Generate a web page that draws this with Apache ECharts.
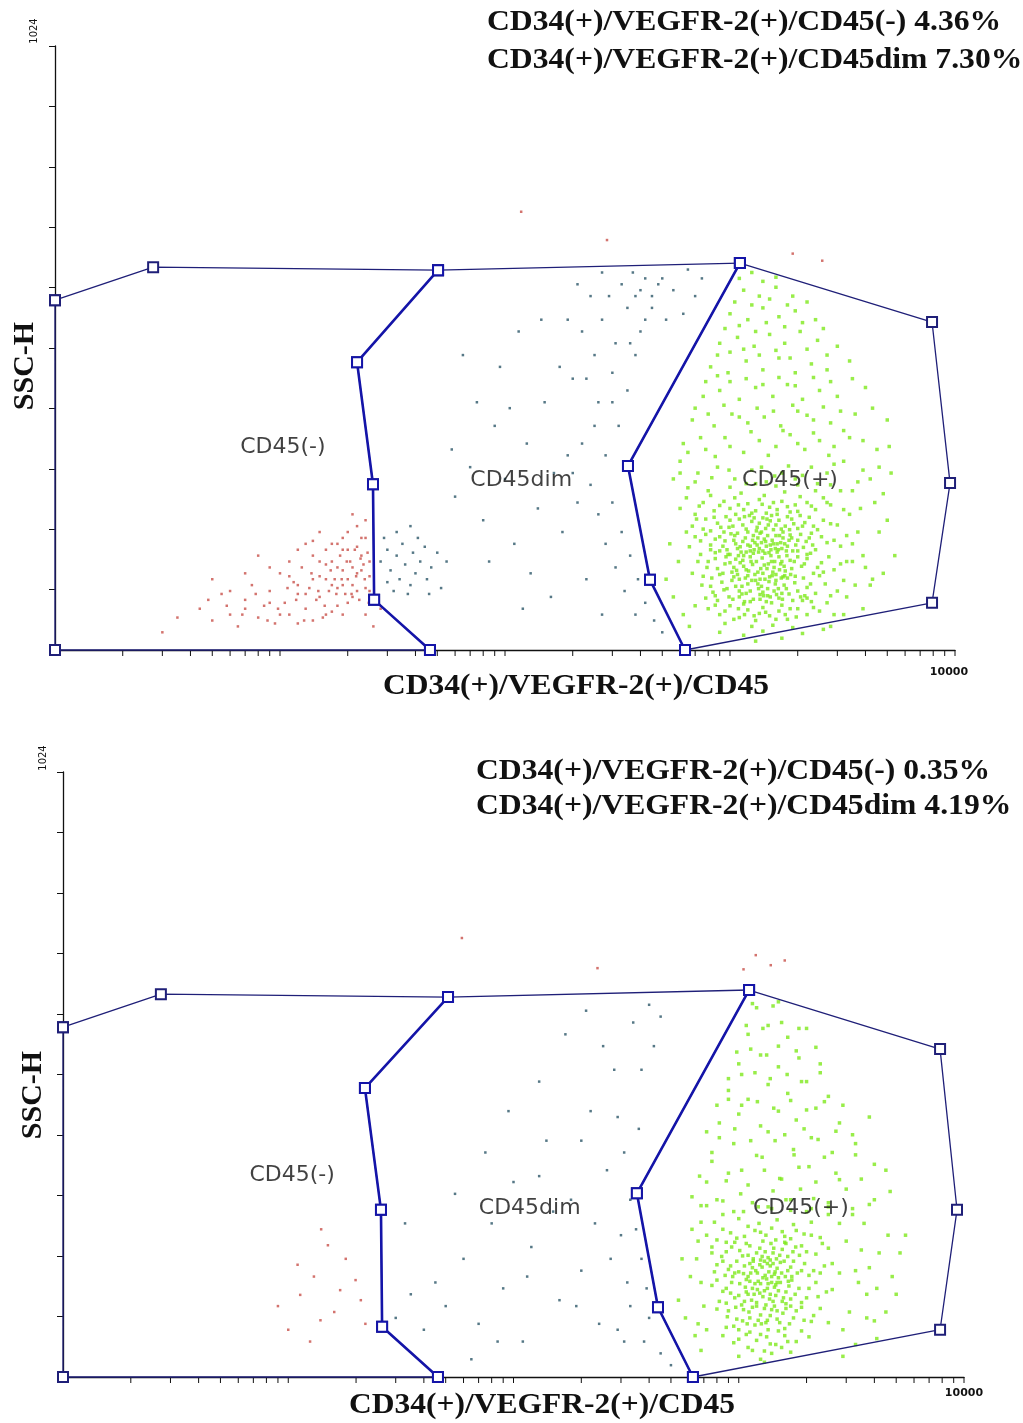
<!DOCTYPE html>
<html><head><meta charset="utf-8">
<script src="https://cdn.jsdelivr.net/npm/echarts@6.0.0/dist/echarts.min.js"></script>
<style>html,body{margin:0;padding:0;background:#fff}#c{width:1023px;height:1423px}</style>
</head><body><div id="c"></div><script>
// ---------- axis ticks / labels ----------
const xTicks = [1,2,3,4,5,6,7,8,9,10,20,30,40,50,60,70,80,90,100,200,300,400,500,600,700,800,900,1000,2000,3000,4000,5000,6000,7000,8000,9000,10000];
const yTickLabel = '1024';
const xTickLabel = '10000';
const xTitle = 'CD34(+)/VEGFR-2(+)/CD45';
const yTitle = 'SSC-H';
const headersTop = ['CD34(+)/VEGFR-2(+)/CD45(-) 4.36%', 'CD34(+)/VEGFR-2(+)/CD45dim 7.30%'];
const headersBottom = ['CD34(+)/VEGFR-2(+)/CD45(-) 0.35%', 'CD34(+)/VEGFR-2(+)/CD45dim 4.19%'];
const gateNames = ['CD45(-)', 'CD45dim', 'CD45(+)'];
const gateLabelPosTop = [[10.3,344],[118,287],[1848,287]];
const gateLabelPosBottom = [[10.4,342],[118,286],[1888,286]];

// ---------- gates (top panel) ----------
const gateNegTop = [[1,593],[2.73,649],[50.4,644],[22,488],[25.9,281],[26.2,85],[46.4,0],[1,0],[1,593]];
const gatePosTop = [[1107,656],[7906,556],[9506,283],[7906,80],[631,0],[441,119],[352,312],[1107,656]];
const gateDimLeftTop = [[50.4,644],[22,488],[25.9,281],[26.2,85],[46.4,0]];
const gateDimRightTop = [[1107,656],[352,312],[441,119],[631,0]];
const gateDimEdgesTop = [[50.4,644],[1107,656]];
// ---------- gates (bottom panel) ----------
const gateNegBottom = [[1,592],[2.72,648],[51.2,643],[21.9,489],[25.8,283],[26.1,85],[46.2,0],[1,0],[1,592]];
const gatePosBottom = [[1111,655],[7830,555],[9310,283],[7830,80],[626,0],[438,118],[353,311],[1111,655]];
const gateDimLeftBottom = [[51.2,643],[21.9,489],[25.8,283],[26.1,85],[46.2,0]];
const gateDimRightBottom = [[1111,655],[353,311],[438,118],[626,0]];
const gateDimEdgesBottom = [[51.2,643],[1111,655]];

// ---------- events, top panel ----------
const negTop = [[4.4,70],[5,50],[5.5,95],[6,60],[6.5,40],[7,85],[7.5,110],[8,55],[8.5,75],[9,100],[9.5,45],[10,130],[10.5,80],[11,60],[11.5,115],[12,95],[12.5,140],[13,70],[13.5,105],[14,160],[14.5,85],[15,125],[15.5,55],[16,145],[16.5,100],[17,180],[17.5,120],[18,75],[18.5,160],[19,135],[19.5,95],[20,200],[20.5,150],[21,110],[21.5,170],[22,130],[22.5,85],[23,190],[23.5,145],[24,105],[24.5,165],[25,125],[10,60],[11,150],[12,110],[13,180],[14,50],[15,90],[16,120],[17,65],[18,105],[19,190],[20,80],[21,140],[22,210],[23,160],[24,60],[25,100],[9,140],[7,130],[6,100],[8,160],[14,120],[16,170],[18,140],[20,120],[22,100],[12,170],[15,200],[19,60],[24,220],[21,230],[3.5,55],[3,30],[5,120],[26,40],[28,70],
[4.8,85],[5.8,75],[6.8,60],[7.8,95],[8.8,50],[9.8,70],[10.8,105],[11.8,85],[12.8,50],[13.8,130],[14.8,100],[15.8,75],[16.8,135],[17.8,95],[18.8,120],[19.8,150],[20.8,95],[21.8,125],[22.8,155],[23.8,120],[24.8,80],[13,95],[15,150],[17,110],[19,170],[21,90],[23,135],[25,150],[18,180],[20,170],[16,60],[14,185],[22,175],[24,190],[11,125],[9,80],[7,70],[12,45],[17,150],[19,110],
[118,743],[284,695],[2570,660],[1900,672]];
const dimTop = [[28,150],[30,170],[31,135],[33,160],[34,120],[35,180],[36,145],[38,110],[39,165],[40,130],[42,150],[44,175],[30,115],[32,100],[37,95],[41,190],[45,120],[29,190],[47,140],[50,165],[52,105],[55,150],[33,200],[38,210],[46,95],[60,260],[70,310],[80,220],[90,380],[100,290],[110,180],[125,350],[140,240],[150,420],[165,300],[180,200],[200,460],[75,420],[85,150],[95,480],[115,540],[130,130],[145,560],[160,90],[190,330],[210,250],[230,120],[250,380],[270,60],[65,500],[105,410],[58,340],[120,70],[175,480],[220,540],[240,600],[200,300],[220,350],[240,280],[260,420],[280,330],[300,470],[320,380],[250,500],[270,560],[290,600],[310,520],[330,620],[350,580],[370,640],[400,610],[420,630],[300,250],[330,200],[360,160],[390,120],[420,80],[460,50],[500,30],[280,180],[310,140],[340,100],[380,60],[260,230],[350,440],[380,500],[420,560],[300,420],[230,460],[210,620],[190,560],[270,640],[400,540],[450,600],[480,620],[360,520],[500,630],[650,645],[560,610],[750,630],[450,580],[620,570],[380,600],[520,560],[700,600]];
const posTop = [[760,250],[900,245],[1050,258],[1200,248],[1350,255],[1500,242],[1700,252],[1950,246],[2200,250],[850,236],[1000,240],[1150,238],[1300,236],[1450,232],[1620,238],[1850,234],[2400,238],[700,230],
[780,222],[880,215],[960,226],[1030,210],[1100,222],[1180,205],[1250,218],[1320,208],[1400,224],[1480,212],[1560,204],[1650,220],[1760,210],[1880,222],[2000,206],[2150,216],[2350,210],[2600,220],[3000,212],[680,210],[820,202],[1080,198],[1220,228],[1380,200],[1530,228],[1720,200],[2050,228],[940,200],
[740,185],[820,178],[900,192],[970,170],[1040,186],[1110,175],[1170,190],[1230,168],[1290,182],[1350,172],[1420,188],[1490,165],[1560,180],[1640,170],[1720,190],[1800,176],[1900,168],[2000,186],[2120,174],[2250,190],[2400,170],[2700,182],[3100,176],[860,165],[1000,162],[1150,160],[1270,194],[1450,176],[1600,194],[1850,195],[2200,162],[660,175],[1060,180],[1330,190],[1520,170],[1680,182],
[720,150],[790,140],[860,155],[930,130],[1000,148],[1070,135],[1140,152],[1200,126],[1260,145],[1330,132],[1390,156],[1460,138],[1530,150],[1600,128],[1680,146],[1760,134],[1850,152],[1950,125],[2080,142],[2200,155],[2350,130],[2550,148],[2900,136],[3300,150],[830,122],[960,158],[1100,120],[1230,158],[1360,120],[1500,124],[1650,158],[1800,122],[2000,158],[1040,140],[1180,136],[1420,144],[1570,140],[1720,124],[680,130],
[750,110],[840,98],[920,115],[990,90],[1060,108],[1130,95],[1200,112],[1270,86],[1340,104],[1410,92],[1490,116],[1570,100],[1650,88],[1740,110],[1830,95],[1940,114],[2060,90],[2200,106],[2400,96],[2650,112],[3000,100],[880,84],[1020,118],[1160,82],[1300,118],[1450,82],[1600,118],[1900,84],[2300,82],[1100,100],[1380,108],[1700,96],
[800,70],[900,60],[1000,75],[1100,55],[1200,68],[1300,50],[1400,72],[1500,58],[1650,66],[1800,52],[2000,70],[2200,60],[2500,66],[950,45],[1250,40],[1550,42],[1900,38],[1150,78],[1350,62],[1700,76],
[900,30],[1150,25],[1400,32],[1700,20],[2100,28],[1300,15],[2600,35],
[3500,180],[4000,140],[4600,200],[3800,240],[3300,90],[4200,110],[5400,160],[2900,60],
[820,262],[1120,266],[1420,262],[1750,268],[2050,260],[2600,258],
[730,244],[940,252],[1090,246],[1250,232],[1390,247],[1560,250],[1800,243],[2000,235],[2300,244],[2800,246],[3200,238],
[760,205],[850,225],[910,208],[1000,220],[1060,230],[1140,212],[1200,200],[1280,224],[1350,215],[1440,206],[1510,219],[1600,212],[1690,205],[1800,226],[1920,214],[2250,225],[2450,204],[2800,214],[710,222],[990,208],[1160,226],[1310,202],[1460,222],[1620,230],[1840,204],[2100,210],
[700,192],[780,196],[860,188],[930,176],[1010,197],[1080,172],[1140,184],[1200,178],[1260,186],[1320,178],[1380,182],[1400,168],[1470,194],[1540,186],[1590,172],[1660,194],[1750,180],[1830,186],[1960,178],[2060,196],[2180,184],[2330,178],[2550,192],[2900,186],[3300,194],[950,185],[1050,194],[1230,176],[1360,198],[1510,178],[1700,172],[1880,190],[2300,198],[820,170],[1120,166],[1280,170],[1440,184],[1620,180],[1780,168],
[740,162],[800,150],[880,138],[950,146],[1020,132],[1090,160],[1150,142],[1210,134],[1270,164],[1310,150],[1370,138],[1430,164],[1480,146],[1550,132],[1620,166],[1700,150],[1790,160],[1880,138],[2000,168],[2140,146],[2280,164],[2450,140],[2750,158],[3100,146],[900,168],[1060,154],[1180,166],[1240,150],[1400,130],[1520,160],[1580,150],[1740,142],[1930,150],[2600,132],[1110,148],[1340,166],[1660,136],[980,162],
[760,125],[820,108],[900,128],[970,104],[1040,124],[1100,90],[1170,122],[1230,100],[1290,128],[1360,94],[1430,120],[1470,104],[1540,126],[1610,94],[1690,122],[1780,104],[1860,128],[2000,100],[2120,122],[2280,112],[2500,126],[2800,92],[3200,118],[860,92],[1080,128],[1250,118],[1330,112],[1510,90],[1590,112],[1750,126],[2150,92],[940,102],[1130,108],[1400,98],[1640,104],
[780,88],[860,76],[950,66],[1030,86],[1090,70],[1160,60],[1230,82],[1280,58],[1360,86],[1440,64],[1530,80],[1600,52],[1710,86],[1850,70],[1970,56],[2100,84],[2350,72],[2700,80],[1040,52],[1180,96],[1470,92],[1760,60],[2200,88],
[520,120],[560,90],[590,150],[620,60],[640,200],[600,240],[540,180],[660,40],[700,75],[3400,230],[3700,200],[3900,160],[4300,120],[4400,250],[3600,110],[3200,60],[2800,40],[3900,70],[4800,130],[5000,220],[3500,150],[2700,250],[3100,270],[2400,270],[2000,280],[1600,278],[1300,282],[1000,276],[800,270],[640,258],
[560,290],[650,275],[2800,280],[3500,270],[4200,290],[4800,265],[600,320],[720,300],[880,310],[1050,290],[1250,305],[1450,285],[1700,300],[1950,290],[2300,310],[2700,300],[3200,320],[3900,305],[5200,300],[620,350],[780,340],[950,360],[1150,335],[1350,355],[1600,345],[1850,365],[2150,340],[2500,355],[2900,345],[3400,360],[4500,340],[680,390],[850,380],[1020,400],[1200,385],[1420,395],[1680,380],[2000,405],[2350,390],[2800,385],[3600,400],[5000,390],[760,430],[900,440],[1100,425],[1300,445],[1550,430],[1800,450],[2100,425],[2500,440],[3000,430],[4000,445],[820,480],[980,470],[1180,490],[1400,475],[1650,495],[1950,470],[2300,485],[2700,475],[3400,490],[900,520],[1080,530],[1280,515],[1500,535],[1750,520],[2050,540],[2450,525],[3000,515],[1000,570],[1200,560],[1400,580],[1650,565],[1950,575],[2400,560],[1150,610],[1350,600],[1600,615],[1900,600],[1250,640],
[600,300],[700,285],[830,292],[990,305],[1180,282],[1380,310],[1580,295],[1820,312],[2100,296],[2450,282],[2900,315],[3700,285],[4600,310],
[650,335],[740,360],[860,328],[1000,345],[1240,370],[1480,330],[1720,372],[2000,350],[2350,368],[2750,330],[3200,372],[3900,355],[5100,345],
[700,410],[800,400],[940,415],[1100,395],[1320,410],[1560,405],[1900,415],[2200,398],[2600,412],[3100,405],[4300,410],
[780,455],[880,465],[1000,455],[1180,460],[1400,450],[1650,462],[1950,448],[2350,462],[2800,455],[3500,460],
[880,500],[1000,505],[1150,510],[1350,500],[1600,508],[1850,495],[2200,510],[2700,500],
[950,545],[1100,550],[1300,540],[1450,555],[1750,548],[2100,555],[2600,545],
[1050,590],[1250,585],[1500,595],[1800,585],[2200,590],
[1100,630],[1400,625],[1600,632]];

// ---------- events, bottom panel ----------
const negBottom = [[11,190],[15,223],[11.3,139],[17,147],[13.9,96],[19.9,164],[12.5,60],[16,110],[18,200],[14,250],[21,130],[10,80],[13,170],[22,90],[9,120],[59,743],[236,692],[1190,714],[1387,697],[1600,705],[1050,690]];
const dimBottom = [[30,100],[35,140],[40,80],[45,160],[50,120],[60,200],[70,90],[80,260],[90,150],[100,330],[110,60],[120,220],[140,400],[160,130],[180,300],[200,180],[220,450],[240,90],[260,350],[280,520],[300,240],[320,160],[340,600],[360,420],[380,60],[400,100],[420,560],[450,40],[500,20],[33,260],[55,310],[75,380],[95,450],[130,500],[170,580],[210,620],[250,560],[290,440],[310,380],[330,300],[350,250],[370,200],[390,150],[190,120],[230,260],[270,200],[150,280],[115,170],[85,60],[65,30],[290,80],[330,120],[310,60],[370,520],[400,630],[450,610],[130,340],[200,400]];
const posBottom = [[720,240],[850,250],[980,235],[1100,255],[1250,245],[1400,252],[1600,238],[1800,248],[2100,240],
[760,220],[880,212],[960,228],[1040,205],[1120,222],[1200,210],[1280,230],[1350,202],[1430,218],[1520,206],[1620,226],[1740,212],[1900,222],[2200,208],[2500,218],
[800,190],[900,182],[980,196],[1050,175],[1120,192],[1190,180],[1250,198],[1310,172],[1380,188],[1450,178],[1530,194],[1610,170],[1700,186],[1820,176],[1960,192],[2150,180],[2400,188],[2800,176],[940,170],[1080,165],[1220,162],[1340,192],[1480,160],[1660,162],[1150,185],[1400,170],
[760,155],[850,145],[930,160],[1000,138],[1070,152],[1140,130],[1210,148],[1280,136],[1350,158],[1420,128],[1500,146],[1580,134],[1670,154],[1780,140],[1900,126],[2050,150],[2250,136],[2600,148],[880,125],[1030,122],[1180,158],[1320,122],[1460,156],[1620,124],[1240,142],[1380,140],[1100,140],
[800,115],[890,102],[970,118],[1040,95],[1110,110],[1180,88],[1250,105],[1320,92],[1400,114],[1480,98],[1570,108],[1680,90],[1800,112],[1950,96],[2150,104],[2500,92],[1150,118],[1350,80],[1600,82],[1000,80],[1220,96],
[850,70],[950,58],[1080,72],[1200,62],[1330,68],[1460,55],[1600,70],[1800,60],[2050,68],[1150,45],[1400,40],[1700,42],[1000,35],[1300,25],
[780,262],[1000,268],[1230,260],[1480,266],[1750,258],[2100,262],
[800,232],[920,244],[1060,238],[1180,248],[1320,240],[1460,232],[1560,246],[1700,234],[1950,242],[2300,236],
[840,204],[930,220],[1010,214],[1080,226],[1160,200],[1240,218],[1310,212],[1390,226],[1470,200],[1560,216],[1650,204],[1790,220],[2000,212],[2350,226],[880,228],[1100,206],[1270,204],[1420,210],[1600,228],[1860,206],[760,210],
[780,178],[850,196],[920,188],[1000,178],[1060,188],[1100,170],[1160,196],[1210,176],[1270,186],[1300,196],[1360,178],[1420,192],[1480,184],[1550,176],[1590,196],[1650,180],[1750,196],[1900,180],[2050,172],[2300,176],[2600,192],[870,172],[960,176],[1130,176],[1330,166],[1500,168],[1720,170],[1240,190],[1440,174],[1380,198],
[800,164],[880,150],[960,134],[1010,158],[1080,144],[1120,162],[1170,140],[1250,158],[1300,146],[1370,132],[1400,160],[1460,138],[1530,160],[1620,144],[1720,164],[1850,150],[2000,134],[2200,160],[2450,144],[920,142],[1060,128],[1200,126],[1340,150],[1560,128],[1700,132],[1280,168],[1440,152],[1150,150],
[820,128],[900,112],[980,98],[1050,114],[1120,100],[1200,120],[1260,90],[1300,116],[1380,104],[1440,120],[1520,92],[1620,116],[1750,100],[1900,118],[2100,94],[2300,116],[950,86],[1090,90],[1340,96],[1480,112],[1700,120],
[880,84],[1000,64],[1120,76],[1250,72],[1380,56],[1500,78],[1650,60],[1900,78],[1100,50],[1300,44],[1550,50],[1250,30],
[650,200],[680,160],[700,120],[660,90],[3000,230],[3300,180],[3700,140],[4200,210],[3100,110],[4800,170],[3600,260],[2900,80],[4000,95],[5500,240],
[540,130],[580,100],[610,170],[640,70],[660,230],[620,250],[560,200],[680,45],[720,80],[3500,215],[3800,185],[4100,150],[4500,110],[4600,240],[3700,100],[3300,55],[2900,35],[4100,65],[5000,140],[5200,210],[3400,160],[2800,260],[3200,275],[2500,275],[2100,285],[1700,282],[1350,288],[1050,280],[850,275],[680,262],
[680,290],[800,300],[950,280],[1150,295],[1400,285],[1700,300],[2000,280],[2500,295],[3200,285],[4000,300],
[720,330],[900,345],[1100,325],[1300,350],[1550,335],[1850,355],[2200,330],[2700,345],[3500,335],[4500,350],
[760,380],[950,395],[1200,375],[1450,400],[1750,385],[2100,405],[2600,380],[3300,395],
[820,430],[1000,445],[1250,425],[1500,450],[1800,435],[2200,455],[2800,430],[3800,440],
[900,485],[1100,470],[1350,495],[1650,480],[2000,500],[2500,475],
[1000,530],[1250,545],[1500,525],[1850,540],[2300,530],
[1100,580],[1350,595],[1650,575],[2000,590],[1200,625],[1500,635],
[620,305],[720,290],[850,298],[1020,310],[1220,288],[1420,315],[1620,300],[1880,318],[2150,302],[2500,288],[3000,318],[3800,292],[4700,314],
[670,340],[760,365],[880,332],[1030,350],[1270,372],[1520,336],[1760,376],[2050,356],[2400,372],[2800,334],[3300,376],[4000,360],
[720,415],[820,405],[960,420],[1130,400],[1350,415],[1600,410],[1950,420],[2250,402],[2700,416],[3200,410],
[800,460],[900,470],[1030,460],[1210,466],[1430,455],[1700,468],[2000,452],[2400,466],[2900,460],
[900,505],[1030,512],[1180,515],[1380,505],[1640,512],[1900,500],[2300,515],
[980,550],[1130,555],[1330,545],[1500,560],[1800,552],[2200,558],
[1080,595],[1280,590],[1550,600],[1850,590],
[1150,632],[1420,628]];

// ---------- styling ----------
const NAVY = '#1f1f78';
const BLUE = '#1414a8';
const C_NEG = '#c8504a';
const C_DIM = '#2c5668';
const C_POS = '#7ee81c';

function tickRender(params, api) {
  const p = api.coord([api.value(0), api.value(1)]);
  return { type: 'line', shape: { x1: p[0], y1: p[1], x2: p[0], y2: p[1] + 6 }, style: { stroke: '#111', lineWidth: 1 } };
}
function gateLine(data, idx, thick) {
  return { type: 'line', xAxisIndex: idx, yAxisIndex: idx, data: data, clip: false, silent: true, z: 5,
    symbol: 'emptyRect', symbolSize: 10, showAllSymbol: true, animation: false,
    lineStyle: { color: thick ? BLUE : NAVY, width: thick ? 2.6 : 1.3 },
    itemStyle: { color: thick ? BLUE : NAVY, borderWidth: thick ? 2.4 : 1.3 } };
}
function dots(data, idx, color, size) {
  return { type: 'scatter', xAxisIndex: idx, yAxisIndex: idx, data: data, symbol: 'rect', symbolSize: size,
    itemStyle: { color: color }, silent: true, animation: false, z: 2 };
}
function gateLabels(pos, idx) {
  return { type: 'scatter', xAxisIndex: idx, yAxisIndex: idx, symbolSize: 1, silent: true, animation: false, z: 6,
    itemStyle: { color: 'rgba(0,0,0,0)' },
    data: pos.map((p, i) => [p[0], p[1], gateNames[i]]),
    label: { show: true, position: 'inside', formatter: p => p.data[2], fontFamily: 'DejaVu Sans', fontSize: 22, color: '#111' } };
}
function panelSeries(idx, neg, dim, pos, gNeg, gPos, gDL, gDR, gDE, lab) {
  return [
    dots(dim, idx, C_DIM, 2.5), dots(neg, idx, C_NEG, 2.5), dots(pos, idx, C_POS, 3.5),
    gateLine(gNeg, idx, false), gateLine(gPos, idx, false), gateLine(gDE, idx, false),
    gateLine(gDL, idx, true), gateLine(gDR, idx, true),
    { type: 'custom', xAxisIndex: idx, yAxisIndex: idx, data: xTicks.map(v => [v, 0]), renderItem: tickRender, clip: false, silent: true, animation: false },
    gateLabels(lab, idx)
  ];
}
const axisLine = { show: true, lineStyle: { color: '#111', width: 1.3 } };
function xAx(idx) {
  return { type: 'log', logBase: 10, min: 1, max: 10000, gridIndex: idx, axisLine: axisLine,
    axisTick: { show: false }, axisLabel: { show: false }, splitLine: { show: false } };
}
function yAx(idx) {
  return { type: 'value', min: 0, max: 1024, interval: 102.4, gridIndex: idx, axisLine: axisLine,
    axisTick: { show: true, inside: false, length: 6, lineStyle: { color: '#111' } },
    axisLabel: { show: false }, splitLine: { show: false } };
}
function txt(x, y, text, font, align, rot, sx) {
  return { type: 'text', x: x, y: y, rotation: rot || 0, scaleX: sx || 1, silent: true,
    style: { text: text, font: font, fill: '#111', align: align || 'left', verticalAlign: 'middle' } };
}
const HF = 'bold 30px "Liberation Serif", "Times New Roman", serif';
const TF = 'bold 30px "Liberation Serif", "Times New Roman", serif';
const SF = '10px "DejaVu Sans", sans-serif';

const chart = echarts.init(document.getElementById('c'), null, { renderer: 'canvas' });
chart.setOption({
  backgroundColor: '#fff',
  animation: false,
  grid: [
    { left: 55, top: 46, width: 900, height: 604 },
    { left: 63, top: 772, width: 901, height: 605 }
  ],
  xAxis: [xAx(0), xAx(1)],
  yAxis: [yAx(0), yAx(1)],
  series: [].concat(
    panelSeries(0, negTop, dimTop, posTop, gateNegTop, gatePosTop, gateDimLeftTop, gateDimRightTop, gateDimEdgesTop, gateLabelPosTop),
    panelSeries(1, negBottom, dimBottom, posBottom, gateNegBottom, gatePosBottom, gateDimLeftBottom, gateDimRightBottom, gateDimEdgesBottom, gateLabelPosBottom)
  ),
  graphic: [
    txt(487, 22, headersTop[0], HF, 'left', 0, 1.055), txt(487, 60, headersTop[1], HF, 'left', 0, 1.055),
    txt(476, 771, headersBottom[0], HF, 'left', 0, 1.055), txt(476, 806, headersBottom[1], HF, 'left', 0, 1.055),
    txt(576, 686, xTitle, TF, 'center', 0, 1.05), txt(542, 1405, xTitle, TF, 'center', 0, 1.05),
    txt(25, 366, yTitle, TF, 'center', Math.PI / 2), txt(33, 1095, yTitle, TF, 'center', Math.PI / 2),
    txt(34, 31, yTickLabel, SF, 'center', Math.PI / 2), txt(43, 758, yTickLabel, SF, 'center', Math.PI / 2),
    txt(949, 672, xTickLabel, 'bold 11px "DejaVu Sans", sans-serif', 'center'),
    txt(964, 1393, xTickLabel, 'bold 11px "DejaVu Sans", sans-serif', 'center')
  ]
});
</script></body></html>
